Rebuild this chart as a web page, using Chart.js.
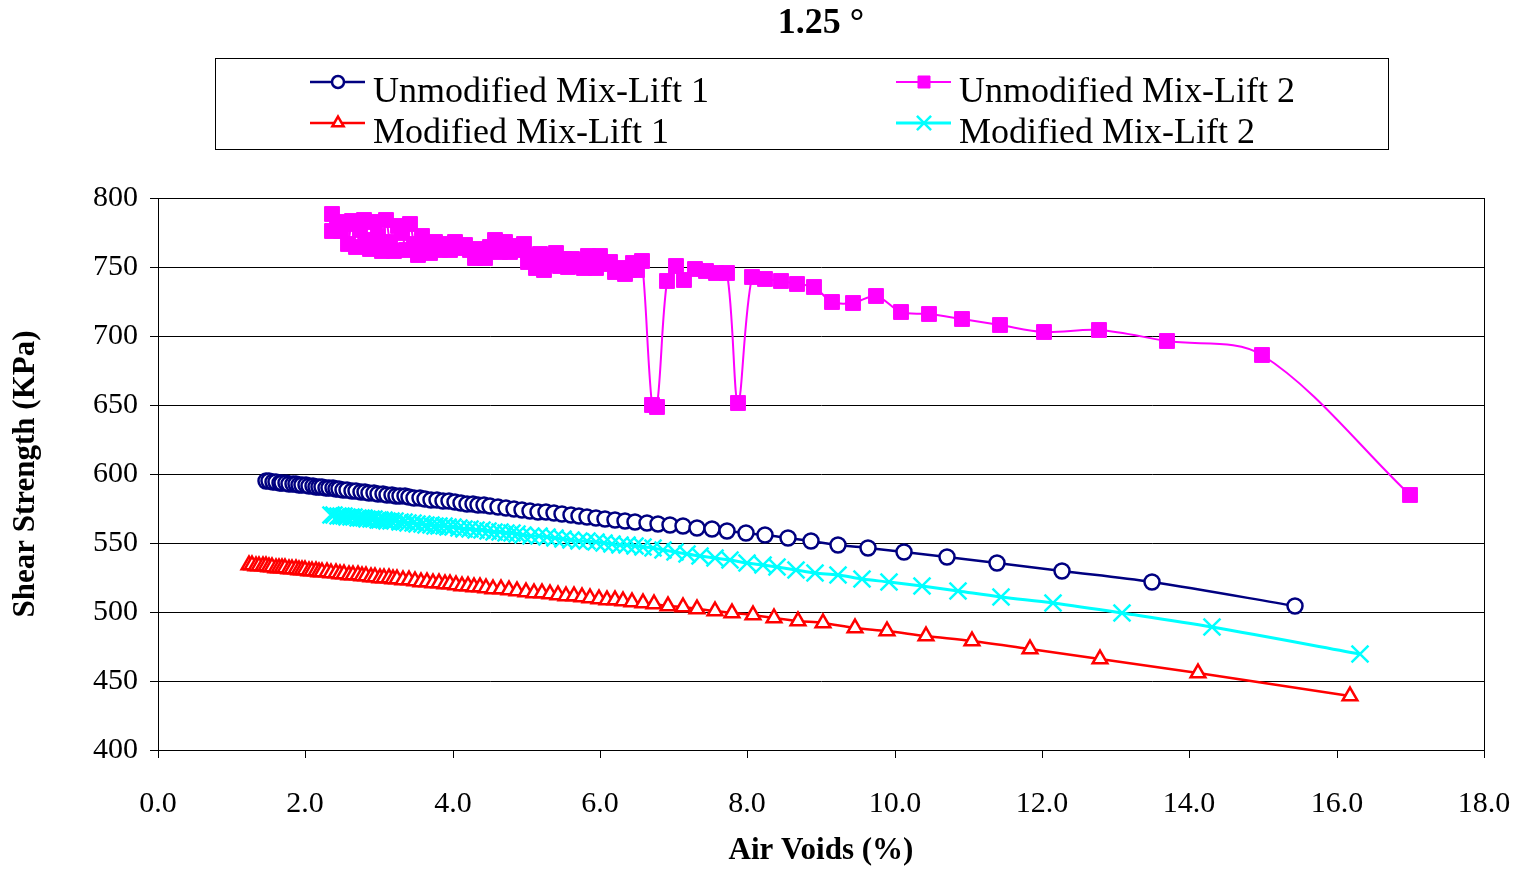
<!DOCTYPE html>
<html><head><meta charset="utf-8">
<script src="https://cdn.jsdelivr.net/npm/chart.js@4.4.0/dist/chart.umd.min.js"></script>
<style>html,body{margin:0;padding:0;background:#fff}#wrap{width:1522px;height:871px}</style>
</head><body><div id="wrap"><canvas id="c" width="1522" height="871"></canvas></div>
<script>
// ---- data ----
const chartTitle = '1.25 °';
const xAxisTitle = 'Air Voids (%)';
const yAxisTitle = 'Shear Strength (KPa)';
const seriesNames = ['Unmodified Mix-Lift 1', 'Unmodified Mix-Lift 2', 'Modified Mix-Lift 1', 'Modified Mix-Lift 2'];

const unmodLift1X = [1.47,1.51,1.56,1.60,1.65,1.69,1.74,1.78,1.83,1.87,1.92,1.96,2.01,2.05,2.10,2.14,2.19,2.23,2.28,2.32,2.37,2.41,2.46,
  2.51,2.57,2.63,2.69,2.75,2.81,2.87,2.93,2.99,3.05,3.11,3.17,3.23,3.29,3.35,3.41,3.47,
  3.55,3.63,3.71,3.79,3.87,3.95,4.03,4.11,4.19,4.27,4.35,4.43,4.51,
  4.61,4.72,4.83,4.94,5.05,5.16,5.27,5.38,5.49,5.60,5.71,5.83,5.95,
  6.07,6.20,6.34,6.48,6.64,6.79,6.95,7.13,7.32,7.52,7.72,7.98,8.24,8.55,8.86,9.23,9.64,10.13,10.71,11.39,12.27,13.49,15.43];
const unmodLift1Y = [594.9,594.7,594.4,594.1,593.8,593.6,593.3,593.0,592.7,592.5,592.2,592.0,591.7,591.4,591.1,590.9,590.6,590.4,590.1,589.8,589.5,589.3,589.0,
  588.7,588.3,588.0,587.6,587.2,586.9,586.5,586.2,585.8,585.5,585.1,584.7,584.4,584.0,583.7,583.3,582.9,
  582.5,582.0,581.5,581.0,580.5,580.1,579.6,579.1,578.6,578.2,577.7,577.2,576.7,
  576.1,575.5,574.8,574.1,573.5,572.8,572.2,571.5,570.9,570.2,569.5,568.8,568.1,
  567.4,566.7,565.9,565.2,564.5,563.8,563.0,562.3,560.9,560.1,558.7,557.2,555.8,553.6,551.2,548.6,546.4,543.5,539.9,535.5,529.7,521.7,504.3];

const unmodLift2X = [2.36,2.36,2.43,2.48,2.54,2.58,2.63,2.69,2.74,2.80,2.84,2.88,2.93,2.99,3.04,3.10,3.15,3.20,3.26,3.31,
  3.37,3.42,3.48,3.53,3.58,3.64,3.69,3.76,3.83,3.90,3.96,4.03,4.10,4.17,4.24,4.30,4.37,4.44,4.51,4.58,
  4.64,4.71,4.78,4.85,4.91,4.97,5.02,5.08,5.13,5.19,5.24,5.29,5.35,5.40,5.46,5.51,5.57,5.62,5.67,5.73,
  5.78,5.84,5.89,5.95,6.00,6.07,6.14,6.20,6.27,6.34,6.39,6.45,6.50,6.57,
  6.71,6.77,6.91,7.03,7.14,7.29,7.44,7.58,7.72,7.87,8.06,8.24,8.46,8.67,8.91,9.15,9.43,9.75,10.09,10.47,10.91,11.43,12.03,12.77,13.70,14.99,17.00];
const unmodLift2Y = [788.4,776.1,782.6,776.1,781.2,766.7,783.3,764.5,776.8,784.1,769.6,763.0,782.6,772.5,761.6,784.1,768.1,761.6,779.7,774.6,
  762.3,781.2,766.7,758.7,772.5,765.2,760.1,768.1,762.3,766.7,762.3,768.1,763.8,765.9,762.3,756.5,763.0,756.5,764.5,769.6,
  760.9,768.1,760.9,765.2,762.3,766.7,753.6,758.0,749.3,759.4,747.8,758.0,752.2,760.1,750.7,755.8,750.0,755.8,750.7,755.1,
  749.3,758.0,753.6,749.3,758.0,752.2,753.6,746.4,749.3,744.9,747.8,752.9,747.8,754.3,
  650.0,648.6,739.9,750.7,740.6,748.6,747.1,745.7,745.7,651.4,742.8,741.3,739.9,737.7,735.5,724.6,723.9,729.0,717.4,715.9,712.3,708.0,702.9,704.3,696.4,686.2,584.8];

const modLift1X = [1.24,1.28,1.33,1.37,1.42,1.46,1.51,1.55,1.60,1.64,1.69,1.73,1.78,1.82,1.87,1.91,1.96,2.00,2.05,2.09,2.14,2.18,2.23,
  2.29,2.35,2.41,2.47,2.53,2.59,2.65,2.71,2.77,2.83,2.89,2.95,3.01,3.07,3.13,3.19,3.25,
  3.33,3.41,3.49,3.57,3.65,3.73,3.81,3.89,3.97,4.05,4.13,4.21,4.29,4.37,4.45,
  4.55,4.66,4.77,4.88,4.99,5.10,5.21,5.32,5.43,5.54,5.65,5.76,5.87,5.98,6.09,6.20,6.31,6.44,
  6.58,6.73,6.92,7.13,7.32,7.56,7.79,8.08,8.36,8.69,9.03,9.46,9.90,10.43,11.05,11.84,12.79,14.12,16.18];
const modLift1Y = [534.1,533.9,533.6,533.4,533.2,533.0,532.7,532.5,532.2,532.0,531.8,531.6,531.3,531.1,530.8,530.6,530.4,530.2,529.9,529.7,529.4,529.2,529.0,
  528.7,528.4,528.1,527.7,527.4,527.1,526.8,526.5,526.2,525.9,525.6,525.3,525.0,524.6,524.3,524.0,523.7,
  523.3,522.9,522.5,522.1,521.6,521.2,520.8,520.4,520.0,519.6,519.2,518.7,518.3,517.9,517.5,
  517.0,516.4,515.9,515.3,514.7,514.1,513.6,513.0,512.4,511.9,511.3,510.7,510.2,509.6,509.0,508.5,507.9,507.2,
  506.5,505.7,504.3,503.6,502.2,500.7,499.3,497.6,495.6,493.5,492.0,488.4,486.2,482.6,479.0,473.2,465.9,455.8,439.1];

const modLift2X = [2.35,2.39,2.44,2.48,2.53,2.57,2.62,2.66,2.71,2.75,2.80,2.84,2.89,2.93,2.98,3.02,3.07,3.11,3.16,
  3.22,3.28,3.34,3.40,3.46,3.52,3.58,3.64,3.70,3.76,3.82,3.88,3.94,4.00,
  4.08,4.16,4.24,4.32,4.40,4.48,4.56,4.64,4.72,4.80,4.88,4.96,
  5.06,5.17,5.28,5.39,5.50,5.61,5.72,5.83,5.94,6.05,6.16,6.27,6.37,6.47,
  6.58,6.72,6.86,7.02,7.18,7.36,7.56,7.76,8.00,8.21,8.40,8.66,8.92,9.23,9.56,9.92,10.37,10.86,11.44,12.15,13.09,14.31,16.32];
const modLift2Y = [570.3,570.1,569.8,569.6,569.3,569.1,568.8,568.6,568.3,568.1,567.9,567.6,567.4,567.1,566.9,566.6,566.4,566.1,565.9,
  565.6,565.2,564.9,564.6,564.3,563.9,563.6,563.3,563.0,562.6,562.3,562.0,561.7,561.3,
  560.9,560.5,560.0,559.6,559.1,558.7,558.3,557.8,557.4,556.9,556.5,556.0,
  555.4,554.8,554.2,553.6,553.0,552.4,551.8,551.2,550.6,550.0,549.4,548.8,548.2,547.7,
  547.3,546.4,544.9,543.5,542.2,540.6,539.1,537.7,535.8,534.2,532.6,530.4,528.3,526.8,524.2,521.8,518.8,515.2,510.9,506.5,499.3,489.1,469.6];

const xMin = 0, xMax = 18, xStep = 2;
const yMin = 400, yMax = 800, yStep = 50;

// ---- build ----
const FAMILY = '"Liberation Serif", "Times New Roman", serif';
const zip = (xs, ys) => xs.map((x, i) => ({x: x, y: ys[i]}));

const datasets = [
  {label: seriesNames[0], data: zip(unmodLift1X, unmodLift1Y), borderColor: '#000080', borderWidth: 2.5,
   pointStyle: 'circle', pointRadius: 7.5, pointBorderWidth: 2.5, pointBackgroundColor: '#ffffff', pointBorderColor: '#000080', legendRadius: 6},
  {label: seriesNames[1], data: zip(unmodLift2X, unmodLift2Y), borderColor: '#ff00ff', borderWidth: 2,
   pointStyle: 'rect', pointRadius: 10.5, pointBorderWidth: 1, pointBackgroundColor: '#ff00ff', pointBorderColor: '#ff00ff', legendRadius: 8.5},
  {label: seriesNames[2], data: zip(modLift1X, modLift1Y), borderColor: '#ff0000', borderWidth: 2.5,
   pointStyle: 'triangle', pointRadius: 8.5, pointBorderWidth: 2.5, pointBackgroundColor: '#ffffff', pointBorderColor: '#ff0000', legendRadius: 6.5},
  {label: seriesNames[3], data: zip(modLift2X, modLift2Y), borderColor: '#00ffff', borderWidth: 3,
   pointStyle: 'crossRot', pointRadius: 12, pointBorderWidth: 2.5, pointBackgroundColor: '#00ffff', pointBorderColor: '#00ffff', legendRadius: 10}
].map(d => Object.assign({showLine: true, tension: 0.33, fill: false, pointHoverRadius: d.pointRadius}, d));

const frame = {
  id: 'frame',
  beforeDatasetsDraw(chart) {
    const a = chart.chartArea, ctx = chart.ctx;
    ctx.save();
    ctx.strokeStyle = '#000'; ctx.lineWidth = 1;
    ctx.strokeRect(Math.round(a.left) + 0.5, Math.round(a.top) + 0.5, Math.round(a.right - a.left), Math.round(a.bottom - a.top));
    ctx.restore();
  }
};

const boxLegend = {
  id: 'boxLegend',
  afterDraw(chart) {
    const ctx = chart.ctx;
    ctx.save();
    ctx.strokeStyle = '#000'; ctx.lineWidth = 1;
    ctx.strokeRect(215.5, 58.5, 1173, 91);
    const pos = [[338, 82], [924, 82], [338, 123], [924, 123]];
    chart.data.datasets.forEach((ds, i) => {
      const cx = pos[i][0], cy = pos[i][1];
      ctx.strokeStyle = ds.borderColor; ctx.lineWidth = ds.borderWidth;
      ctx.beginPath(); ctx.moveTo(cx - 28, cy); ctx.lineTo(cx + 27, cy); ctx.stroke();
      ctx.fillStyle = ds.pointBackgroundColor; ctx.strokeStyle = ds.pointBorderColor; ctx.lineWidth = ds.pointBorderWidth;
      Chart.helpers.drawPoint(ctx, {pointStyle: ds.pointStyle, radius: ds.legendRadius, rotation: 0, borderWidth: ds.pointBorderWidth}, cx, cy);
      ctx.fillStyle = '#000';
      ctx.font = '36px ' + FAMILY;
      ctx.textBaseline = 'middle'; ctx.textAlign = 'left';
      ctx.fillText(ds.label, cx + 35, cy + 11);
    });
    ctx.restore();
  }
};

const whiteBg = {
  id: 'whiteBg',
  beforeDraw(chart) {
    const ctx = chart.ctx; ctx.save(); ctx.fillStyle = '#fff'; ctx.fillRect(0, 0, chart.width, chart.height); ctx.restore();
  }
};

new Chart(document.getElementById('c'), {
  type: 'scatter',
  data: {datasets: datasets},
  plugins: [whiteBg, frame, boxLegend],
  options: {
    responsive: false,
    animation: false,
    events: [],
    layout: {padding: {left: 0, right: 38, top: 0, bottom: 0}},
    plugins: {
      legend: {display: false},
      tooltip: {enabled: false},
      title: {display: true, fullSize: false, text: chartTitle, color: '#000',
        font: {family: FAMILY, size: 36, weight: 'bold'}, padding: {top: 2.4, bottom: 152.4}}
    },
    scales: {
      x: {
        type: 'linear', min: xMin, max: xMax, alignToPixels: true,
        afterFit(s) { s.height = 121; s.paddingLeft = 0; s.paddingRight = 0; },
        ticks: {stepSize: xStep, color: '#000', padding: 28, font: {family: FAMILY, size: 30},
          callback: v => Number(v).toFixed(1)},
        grid: {drawOnChartArea: false, drawTicks: true, tickLength: 8, color: '#000', lineWidth: 1},
        border: {display: true, color: '#000', width: 1},
        title: {display: true, text: xAxisTitle, color: '#000', font: {family: FAMILY, size: 31, weight: 'bold'}, padding: {top: 0, bottom: 1}}
      },
      y: {
        type: 'linear', min: yMin, max: yMax, alignToPixels: true,
        afterFit(s) { s.width = 158; },
        ticks: {stepSize: yStep, color: '#000', padding: 12, font: {family: FAMILY, size: 30}},
        grid: {drawOnChartArea: true, drawTicks: true, tickLength: 8, color: '#000', lineWidth: 1},
        border: {display: true, color: '#000', width: 1},
        title: {display: true, text: yAxisTitle, color: '#000', font: {family: FAMILY, size: 31, weight: 'bold'}, padding: {top: 7, bottom: 0}}
      }
    }
  }
});
</script></body></html>
